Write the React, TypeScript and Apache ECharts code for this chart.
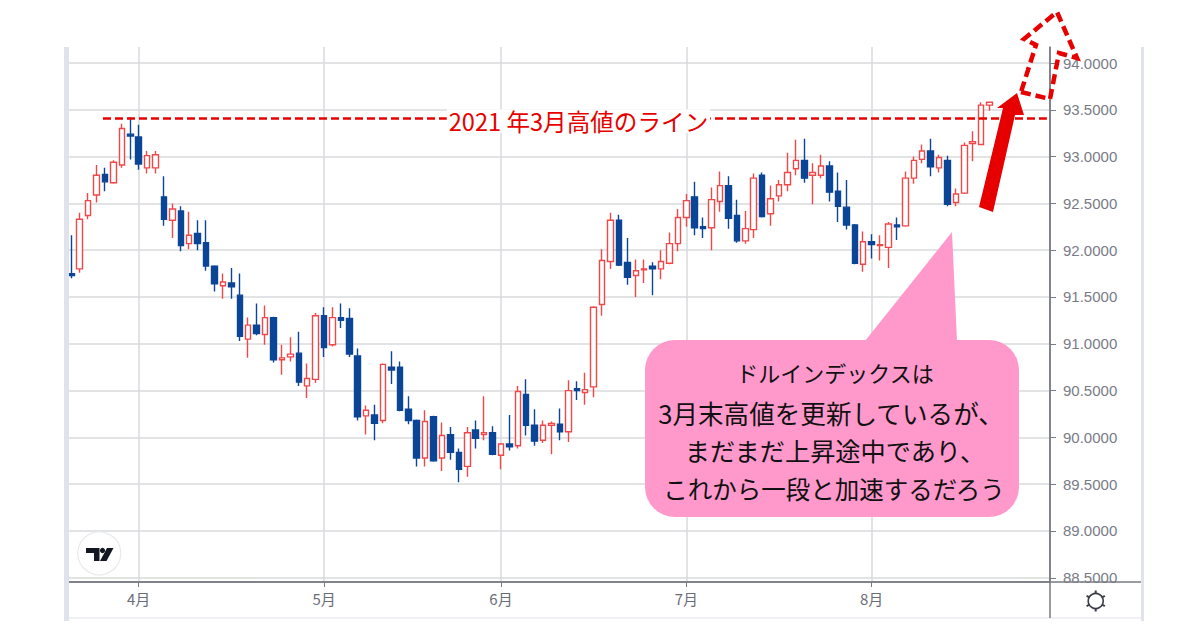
import React, { useEffect, useRef } from "react";
import * as echarts from "echarts";

const opens = [91.75,91.80,92.37,92.59,92.81,92.72,92.91,93.24,93.21,92.88,92.88,92.57,92.32,92.42,92.07,92.18,92.08,91.83,91.62,91.65,91.52,91.05,91.20,91.10,91.28,90.83,90.86,90.90,90.55,90.62,91.30,90.99,91.28,91.27,90.87,90.23,90.24,90.18,90.75,90.75,90.30,90.18,89.78,90.22,89.78,90.03,89.84,89.69,90.08,90.03,90.05,89.81,89.93,89.91,90.46,90.13,89.97,90.13,90.14,90.06,90.52,90.48,90.54,91.42,91.88,92.32,91.87,91.73,91.79,91.83,91.80,91.86,92.07,92.35,92.57,92.25,92.24,92.52,92.69,92.37,92.10,92.22,92.80,92.39,92.58,92.70,92.87,92.96,92.80,92.80,92.90,92.63,92.46,92.27,91.85,92.09,92.05,92.03,92.27,92.26,92.77,92.97,93.06,92.88,92.96,92.51,92.61,93.14,93.13,93.55];
const closes = [91.73,92.33,92.53,92.80,92.73,92.94,93.30,93.22,92.92,93.01,93.02,92.33,92.44,92.05,92.16,92.07,91.83,91.64,91.66,91.61,91.08,91.20,91.11,91.28,90.83,90.85,90.89,90.59,90.63,91.30,90.96,91.28,91.25,90.89,90.22,90.29,90.15,90.78,90.72,90.29,90.18,89.78,90.17,89.75,90.02,89.84,89.66,90.05,89.99,90.05,89.82,89.93,89.90,90.49,90.13,89.96,90.13,90.15,90.06,90.50,90.50,90.51,91.39,91.89,92.32,91.84,91.71,91.78,91.80,91.80,91.88,92.07,92.35,92.53,92.24,92.23,92.54,92.69,92.34,92.10,92.23,92.77,92.36,92.55,92.70,92.83,92.96,92.77,92.83,92.90,92.62,92.47,92.27,91.86,92.09,92.06,92.06,92.28,92.25,92.77,92.96,93.06,92.89,92.99,92.49,92.60,93.12,93.16,93.55,93.58];
const lows = [91.70,91.76,92.33,92.51,92.63,92.71,92.88,92.97,92.86,92.82,92.82,92.26,92.13,91.99,92.01,92.00,91.78,91.56,91.48,91.48,91.03,90.85,91.09,90.99,90.80,90.67,90.81,90.55,90.42,90.58,90.86,90.97,91.17,90.86,90.18,90.03,89.97,90.15,90.57,90.28,90.14,89.69,89.69,89.74,89.64,89.76,89.52,89.58,89.88,89.97,89.81,89.66,89.86,89.88,90.02,89.91,89.94,89.82,89.97,89.95,90.40,90.35,90.43,91.30,91.80,91.83,91.63,91.50,91.65,91.52,91.69,91.85,91.99,92.25,92.16,92.13,92.00,92.41,92.23,92.08,92.07,92.13,92.35,92.26,92.52,92.63,92.80,92.72,92.49,92.77,92.52,92.30,92.22,91.85,91.77,91.91,91.89,91.81,92.11,92.25,92.71,92.93,92.79,92.83,92.47,92.47,92.60,92.95,93.12,93.49];
const highs = [92.16,92.40,92.61,92.91,92.88,92.96,93.35,93.42,93.34,93.06,93.06,92.79,92.50,92.47,92.41,92.32,92.32,91.84,91.75,91.81,91.75,91.28,91.43,91.41,91.29,90.99,91.07,91.13,90.79,91.33,91.39,91.39,91.43,91.38,90.95,90.34,90.35,90.79,90.92,90.81,90.44,90.19,90.29,90.23,90.16,90.11,89.88,90.11,90.18,90.44,90.12,89.94,90.24,90.55,90.62,90.30,90.18,90.17,90.31,90.61,90.60,90.69,91.40,92.01,92.40,92.38,92.13,91.90,91.90,91.87,92.00,92.19,92.44,92.60,92.73,92.35,92.67,92.84,92.79,92.54,92.42,92.82,92.83,92.69,92.75,93.04,93.18,93.19,92.93,93.02,92.95,92.83,92.75,92.28,92.20,92.17,92.16,92.30,92.35,92.84,93.00,93.13,93.19,93.02,93.01,92.66,93.15,93.27,93.58,93.59];

const priceTicks = [88.5, 89, 89.5, 90, 90.5, 91, 91.5, 92, 92.5, 93, 93.5, 94];
const monthPositions = [8, 30, 51, 73, 95];
const monthLabels = ["4月", "5月", "6月", "7月", "8月"];
const resistance = 93.41;
const resistanceLabel = "2021 年3月高値のライン";
const calloutLines = [
  "ドルインデックスは",
  "3月末高値を更新しているが、",
  "まだまだ上昇途中であり、",
  "これから一段と加速するだろう",
];

const JP = '"Noto Sans CJK JP", sans-serif';
const AXIS = "#787b86";
const GRID = "#d9dadd";
const FRAME = "#e0e3eb";
const RED = "#e60000";
const PINK = "#ff99cc";

export default function App() {
  const ref = useRef<HTMLDivElement>(null);
  useEffect(() => {
    const chart = echarts.init(ref.current!, undefined, { renderer: "svg" });
    const candles = opens.map((o, i) => [i, o, closes[i], lows[i], highs[i]]);
    const gearTeeth = [
      [1095.7, 590.5, 1095.7, 594],
      [1095.7, 611.5, 1095.7, 608],
      [1086.6, 595.8, 1089.6, 597.5],
      [1104.8, 595.8, 1101.8, 597.5],
      [1086.6, 606.2, 1089.6, 604.5],
      [1104.8, 606.2, 1101.8, 604.5],
    ];
    const calloutX = [835, 831, 835, 834];
    const calloutY = [372, 412, 450, 488];
    const calloutSize = [22, 25.6, 25.2, 24.5];
    chart.setOption({
      animation: false,
      backgroundColor: "#ffffff",
      grid: { left: 69, top: 47, width: 981, height: 535 },
      xAxis: {
        type: "value",
        min: -0.273,
        max: 116.17,
        axisLine: { show: true, onZero: false, lineStyle: { color: AXIS, width: 1.5 } },
        axisTick: { show: true, length: 5, lineStyle: { color: AXIS }, customValues: monthPositions },
        axisLabel: {
          customValues: monthPositions,
          formatter: (v: number) => monthLabels[monthPositions.indexOf(v)] ?? "",
          color: "#6a6d78",
          fontSize: 15,
          fontFamily: JP,
          margin: 9,
        },
        splitLine: { show: true, lineStyle: { color: GRID, width: 1.5 } },
      },
      yAxis: {
        type: "value",
        position: "right",
        min: 88.455,
        max: 94.171,
        axisLine: { show: true, onZero: false, lineStyle: { color: AXIS, width: 1.5 } },
        axisTick: { show: true, length: 6, lineStyle: { color: AXIS }, customValues: priceTicks },
        axisLabel: {
          customValues: priceTicks,
          formatter: (v: number) => v.toFixed(4),
          color: AXIS,
          fontSize: 15,
          fontFamily: "Liberation Sans, Arial, sans-serif",
          margin: 13,
        },
        splitLine: { show: true, lineStyle: { color: GRID, width: 1.5 } },
      },
      series: [
        {
          type: "candlestick",
          data: candles,
          barWidth: 6,
          clip: false,
          itemStyle: {
            color: "#ffffff",
            color0: "#0b4596",
            borderColor: "#f04848",
            borderColor0: "#0b4596",
            borderWidth: 1.4,
          },
          markLine: {
            silent: true,
            symbol: "none",
            label: { show: false },
            lineStyle: { color: RED, type: [8, 4], width: 2.5, opacity: 1 },
            data: [[{ coord: [3.76, resistance] }, { coord: [115.8, resistance] }]],
          },
        },
      ],
      graphic: {
        elements: [
          { type: "rect", z: 20, shape: { x: 64, y: 47, width: 5, height: 574 }, style: { fill: FRAME } },
          { type: "rect", z: 20, shape: { x: 1141, y: 47, width: 3, height: 574 }, style: { fill: FRAME } },
          { type: "rect", z: 20, shape: { x: 69, y: 617, width: 1072, height: 2 }, style: { fill: "#eef0f4" } },
          { type: "line", z: 21, shape: { x1: 69, y1: 582, x2: 1141, y2: 582 }, style: { stroke: AXIS, lineWidth: 1.5 } },
          { type: "line", z: 21, shape: { x1: 1050, y1: 47, x2: 1050, y2: 618 }, style: { stroke: AXIS, lineWidth: 1.5 } },
          {
            type: "text", z: 30,
            style: {
              text: resistanceLabel, x: 578.5, y: 121, textAlign: "center", textVerticalAlign: "middle",
              fill: RED, fontSize: 23.6, fontFamily: JP, backgroundColor: "#ffffff", padding: [0, 2],
            },
          },
          { type: "polygon", z: 30, shape: { points: [[952, 232], [865, 341], [957, 341]] }, style: { fill: PINK } },
          { type: "rect", z: 30, shape: { x: 645, y: 340, width: 374, height: 177, r: 30 }, style: { fill: PINK } },
          ...calloutLines.map((t, i) => ({
            type: "text", z: 31,
            style: {
              text: t, x: calloutX[i], y: calloutY[i], textAlign: "center", textVerticalAlign: "middle",
              fill: "#111111", fontSize: calloutSize[i], fontFamily: JP,
            },
          })),
          {
            type: "polygon", z: 32,
            shape: { points: [[979, 207], [993, 212], [1015, 115], [1024, 115], [1017, 93], [997, 108], [1003, 108]] },
            style: { fill: RED },
          },
          {
            type: "polygon", z: 32,
            shape: { points: [[1021, 92], [1050, 99], [1059, 53], [1077, 58], [1057, 12], [1024, 39], [1036, 45]] },
            style: { fill: "none", stroke: RED, lineWidth: 4.5, lineDash: [10, 5] },
          },
          { type: "circle", z: 25, shape: { cx: 99.3, cy: 553.3, r: 21.5 }, style: { fill: "#ffffff", stroke: "#e8e9ec", lineWidth: 1.2 } },
          { type: "polygon", z: 26, shape: { points: [[86, 548], [99.5, 548], [99.5, 561], [94, 561], [94, 553], [86, 553]] }, style: { fill: "#131722" } },
          { type: "circle", z: 26, shape: { cx: 102.5, cy: 550.5, r: 2.6 }, style: { fill: "#131722" } },
          { type: "polygon", z: 26, shape: { points: [[107, 548], [113.5, 548], [106.5, 561], [100, 561]] }, style: { fill: "#131722" } },
          { type: "circle", z: 25, shape: { cx: 1095.7, cy: 601, r: 7.5 }, style: { fill: "#ffffff", stroke: "#3a3d47", lineWidth: 1.6 } },
          ...gearTeeth.map(([x1, y1, x2, y2]) => ({
            type: "line", z: 25, shape: { x1, y1, x2, y2 }, style: { stroke: "#3a3d47", lineWidth: 2 },
          })),
        ],
      },
    });
    return () => chart.dispose();
  }, []);
  return <div ref={ref} style={{ position: "absolute", left: 0, top: 0, width: 1200, height: 630 }} />;
}
